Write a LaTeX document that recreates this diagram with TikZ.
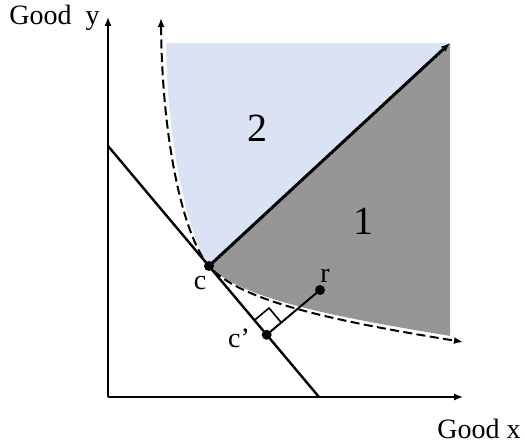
\documentclass[tikz,border=0pt]{standalone}
\usepackage{fontspec}
\setmainfont{Liberation Serif}
\usetikzlibrary{arrows.meta,calc}
\definecolor{areablue}{HTML}{DAE3F3}
\definecolor{areagray}{HTML}{969696}
\tikzset{
  axis/.style={line width=0.65pt,->},
  budget/.style={line width=1.2pt},
  indiff/.style={line width=1pt,dash pattern=on 4.5pt off 2.2pt,<->},
  ray/.style={line width=1.5pt,->},
  dot/.style={circle,fill=black,inner sep=0pt,minimum size=5pt},
  lbl/.style={font=\fontsize{14}{16}\selectfont,inner sep=0pt},
  zone/.style={font=\fontsize{20}{24}\selectfont,inner sep=0pt},
}
\begin{document}
\begin{tikzpicture}[x=0.5pt,y=-0.5pt,>={Latex[length=4.5pt,width=3.5pt]}]
  \useasboundingbox (0,0) rectangle (525,443);
  \coordinate (o) at (108,397);
  \coordinate (ytop) at (108,17);
  \coordinate (xend) at (463,397);
  \coordinate (bA) at (108,146);
  \coordinate (bB) at (319,397);
  \coordinate (c) at (209,266);
  \coordinate (r) at (320,290);
  \coordinate (cp) at ($(bA)!(r)!(bB)$);
  \coordinate (diag) at (450,43);
  \coordinate (itop) at (161,18);
  \coordinate (iend) at (463,342);
  \fill[areablue] (166,43) .. controls (167,140) and (187,234) .. (c) -- (diag) -- cycle;
  \begin{scope}
    \clip (0,0) rectangle (450,443);
    \fill[areagray] (c) -- (diag) -- (463,43) -- (463,338) .. controls (340,318) and (242,300) .. (c) -- cycle;
  \end{scope}
  \draw[axis] (o) -- (ytop);
  \draw[axis] (o) -- (xend);
  \draw[budget] (bA) -- (bB);
  \draw[indiff] (itop) .. controls (162,140) and (183,236) .. (c) .. controls (240,302) and (340,322) .. (iend);
  \draw[ray] (c) -- (diag);
  \draw[line width=1pt] (r) -- (cp);
  \coordinate (sqa) at ($(cp)!9.5pt!(c)$);
  \coordinate (sqb) at ($(cp)!9.5pt!(r)$);
  \draw[line width=0.8pt] (sqa) -- ($(sqa)+(sqb)-(cp)$) -- (sqb);
  \node[dot] (cdot) at (c) {};
  \node[dot] (rdot) at (r) {};
  \node[dot] (cpdot) at (cp) {};
  \node[lbl,anchor=base west] (ylab) at (9,25) {Good\hspace{0.25em} y};
  \node[lbl,anchor=base west] (xlab) at (437,438) {Good x};
  \node[zone,anchor=base] (zone2) at (257,142) {2};
  \node[zone,anchor=base] (zone1) at (363,235) {1};
  \node[lbl,anchor=base] (clab) at (200,290) {c};
  \node[lbl,anchor=base] (cplab) at (239,348) {c’};
  \node[lbl,anchor=base] (rlab) at (325,283) {r};
\end{tikzpicture}
\end{document}
